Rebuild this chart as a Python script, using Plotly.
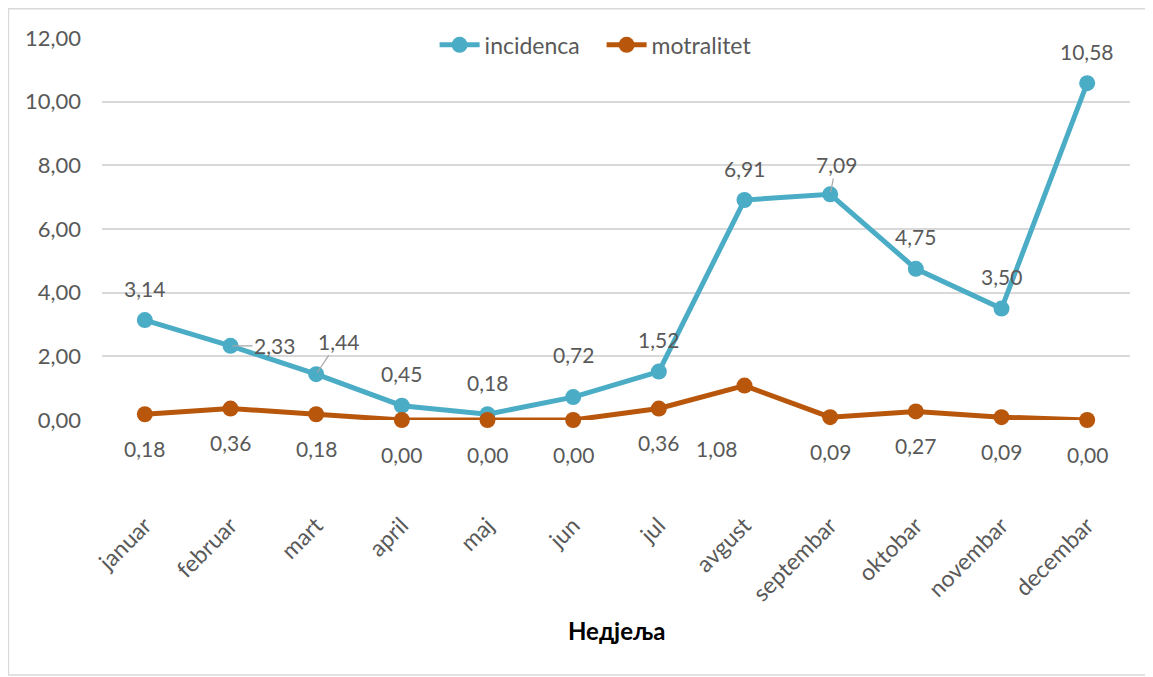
import plotly.graph_objects as go

months = ['januar', 'februar', 'mart', 'april', 'maj', 'jun', 'jul',
          'avgust', 'septembar', 'oktobar', 'novembar', 'decembar']
incidenca = [3.14, 2.33, 1.44, 0.45, 0.18, 0.72, 1.52, 6.91, 7.09, 4.75, 3.50, 10.58]
motralitet = [0.18, 0.36, 0.18, 0.00, 0.00, 0.00, 0.36, 1.08, 0.09, 0.27, 0.09, 0.00]

TEAL = '#4BACC6'
ORANGE = '#B8560B'
GRAY_TXT = '#595959'
FONT = 'Lato'

# label offsets in px (x, y) -- y up; leader lines where Excel drew them
inc_shift = [(0, 32)] * 12
inc_shift[1] = (44, 0)
inc_shift[2] = (22, 33)
inc_shift[5] = (0, 43)
inc_shift[8] = (6, 30)
inc_leader = {1, 2, 8}
mot_shift = [(0, -34)] * 12
mot_shift[7] = (-28, -63)


def fmt(v):
    return f'{v:.2f}'.replace('.', ',')


fig = go.Figure()
fig.add_trace(go.Scatter(
    x=months, y=incidenca, name='incidenca', mode='lines+markers',
    line=dict(color=TEAL, width=5), marker=dict(size=16, color=TEAL),
    cliponaxis=False
))
fig.add_trace(go.Scatter(
    x=months, y=motralitet, name='motralitet', mode='lines+markers',
    line=dict(color=ORANGE, width=5), marker=dict(size=16, color=ORANGE),
    cliponaxis=False
))

annotations = []
for i, (m, v) in enumerate(zip(months, incidenca)):
    dx, dy = inc_shift[i]
    if i in inc_leader:
        annotations.append(dict(x=m, y=v, text=fmt(v), showarrow=True,
                                arrowhead=0, arrowwidth=1.2, arrowcolor='#A6A6A6',
                                ax=dx, ay=-dy, standoff=2,
                                font=dict(family=FONT, size=21, color=GRAY_TXT)))
    else:
        annotations.append(dict(x=m, y=v, text=fmt(v), showarrow=False,
                                xshift=dx, yshift=dy,
                                font=dict(family=FONT, size=21, color=GRAY_TXT)))
for i, (m, v) in enumerate(zip(months, motralitet)):
    dx, dy = mot_shift[i]
    annotations.append(dict(x=m, y=v, text=fmt(v), showarrow=False,
                            xshift=dx, yshift=dy,
                            font=dict(family=FONT, size=21, color=GRAY_TXT)))

annotations.append(dict(xref='paper', yref='paper', x=0.5, y=-0.594,
                        text='<b>Недјеља</b>', showarrow=False,
                        font=dict(family=FONT, size=24, color='black')))

fig.update_layout(
    width=1145, height=669,
    margin=dict(l=94, r=23, t=30, b=257),
    paper_bgcolor='white', plot_bgcolor='white',
    separators=', ',
    font=dict(family=FONT, size=21, color=GRAY_TXT),
    showlegend=True,
    legend=dict(orientation='h', x=0.486, xanchor='center', y=0.982, yanchor='middle',
                bgcolor='rgba(0,0,0,0)', font=dict(size=23, color=GRAY_TXT),
                itemwidth=40, tracegroupgap=0, entrywidth=112),
    xaxis=dict(type='category', range=[-0.5, 11.5], tickangle=-45,
               showgrid=False, showline=False, zeroline=False,
               ticks='outside', ticklen=82, tickcolor='rgba(0,0,0,0)',
               tickfont=dict(size=23, color=GRAY_TXT)),
    yaxis=dict(range=[0, 12], dtick=2, tickformat='.2f',
               showgrid=True, gridcolor='#D9D9D9', gridwidth=1.5,
               zeroline=False, showline=False, ticks='',
               ticklabelstandoff=20,
               tickfont=dict(size=22, color=GRAY_TXT)),
    annotations=annotations,
    shapes=[dict(type='rect', xref='paper', yref='paper',
                 x0=-0.091, x1=1.0195, y0=-0.6675, y1=1.0766,
                 line=dict(color='#D9D9D9', width=1.5), fillcolor='rgba(0,0,0,0)')]
)

fig.write_html('out.html')
